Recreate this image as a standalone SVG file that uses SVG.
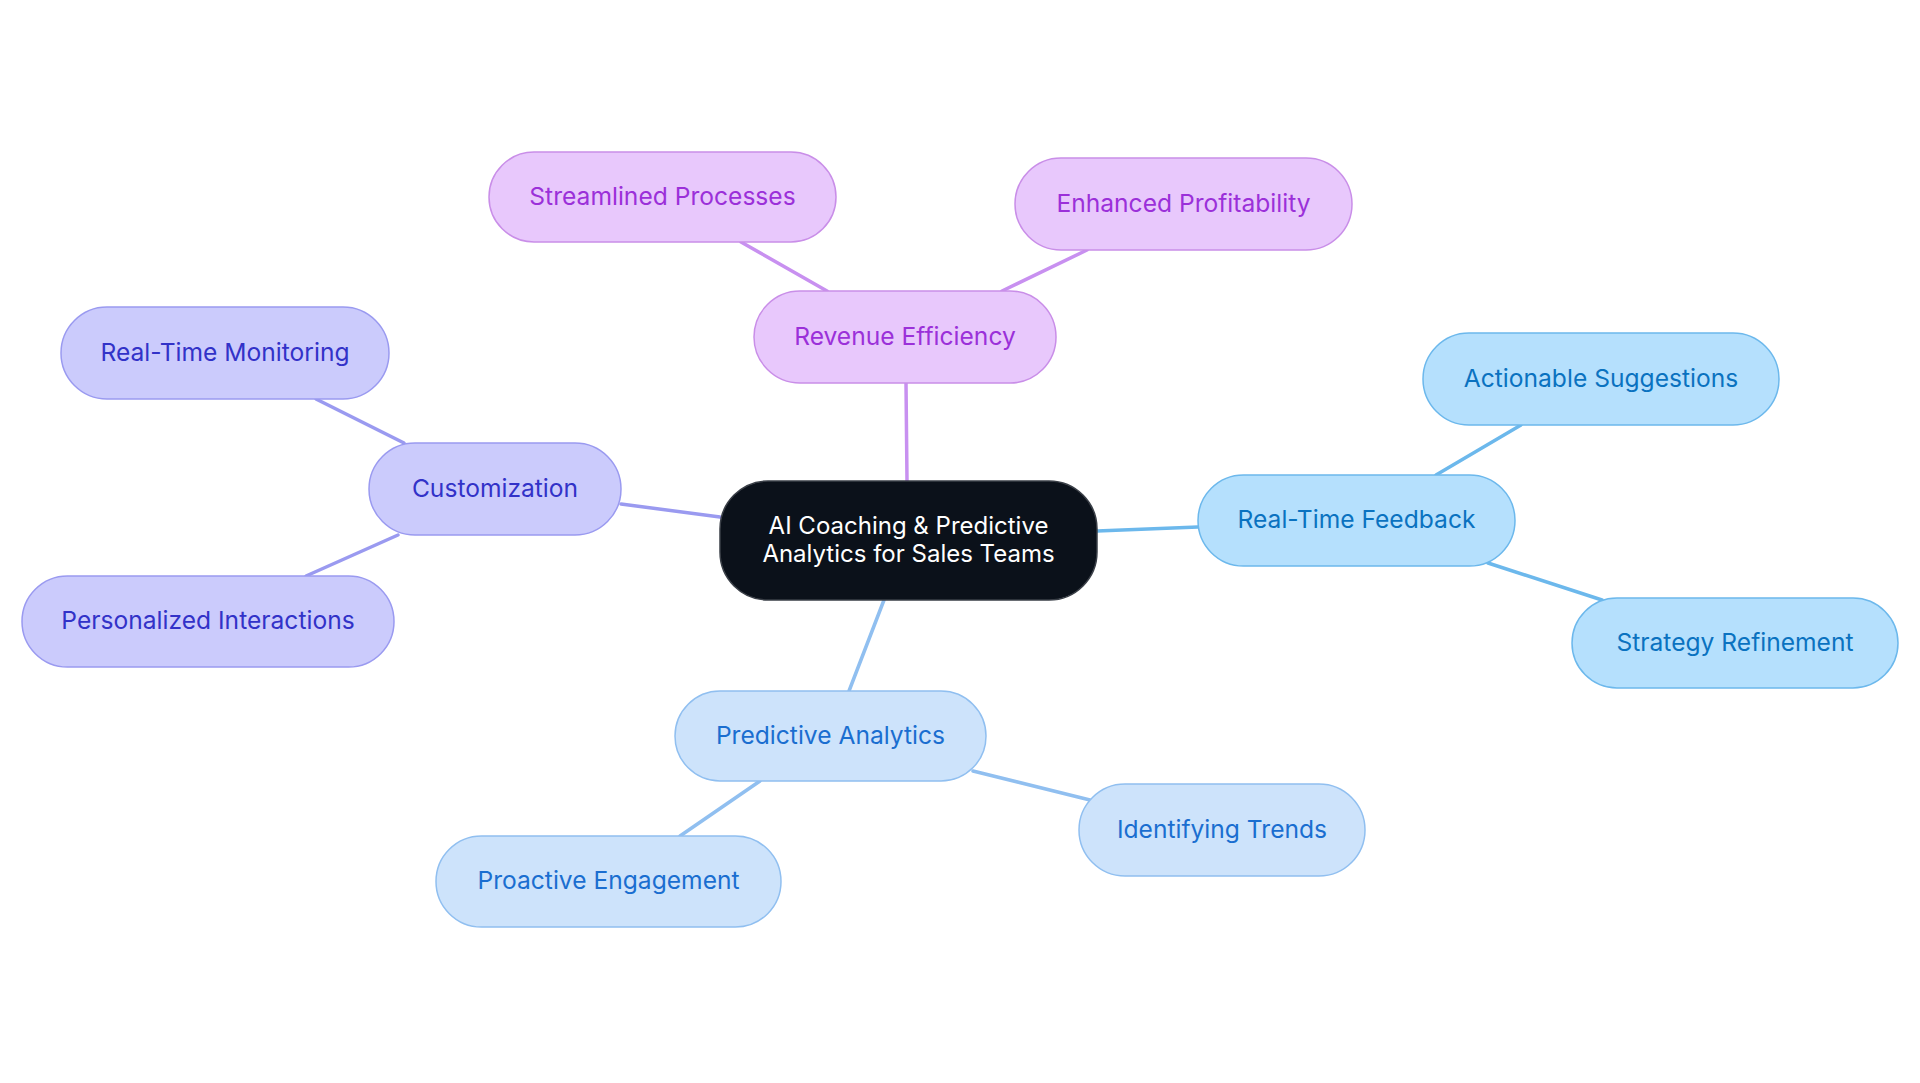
<svg xmlns="http://www.w3.org/2000/svg" width="1920" height="1083" viewBox="0 0 1920 1083">
<style>
text{font-family:Inter,"Noto Sans","Liberation Sans",sans-serif;font-size:24.6px;text-anchor:middle}
#center text{font-size:24px}
.n rect{stroke-width:1.5}
.purple rect{fill:#e8c8fc;stroke:#c98ee8}.purple text{fill:#9b30d9}
.indigo rect{fill:#cbcbfc;stroke:#9a9af0}.indigo text{fill:#3232c8}
.sky rect{fill:#b5e0fd;stroke:#6cb8ec}.sky text{fill:#0a72c0}
.blue rect{fill:#cde3fb;stroke:#90bff0}.blue text{fill:#1a6ed0}
.e line{stroke-width:3.5;stroke-linecap:round}
</style>
<rect width="1920" height="1083" fill="#ffffff"/>
<g id="connectors" class="e">
<line x1="906" y1="383" x2="907" y2="481" stroke="#c890f0"/>
<line x1="827" y1="291" x2="741" y2="242" stroke="#c890f0"/>
<line x1="1002" y1="291" x2="1087" y2="250" stroke="#c890f0"/>
<line x1="621" y1="504" x2="720" y2="517" stroke="#9a9af0"/>
<line x1="404" y1="443" x2="316" y2="399" stroke="#9a9af0"/>
<line x1="398" y1="535" x2="306" y2="576" stroke="#9a9af0"/>
<line x1="1097" y1="531" x2="1198" y2="527" stroke="#6cb8ec"/>
<line x1="1436" y1="475" x2="1521" y2="425" stroke="#6cb8ec"/>
<line x1="1488" y1="563" x2="1602" y2="600" stroke="#6cb8ec"/>
<line x1="884" y1="600" x2="849" y2="691" stroke="#90bff0"/>
<line x1="760" y1="781" x2="680" y2="836" stroke="#90bff0"/>
<line x1="973" y1="771" x2="1090" y2="800" stroke="#90bff0"/>
</g>
<g id="center">
<rect x="720" y="481" width="377" height="119" rx="48" fill="#0b111a" stroke="#3a3f47" stroke-width="1.5"/>
<text x="908.5" y="534" fill="#ffffff">AI Coaching &amp; Predictive</text>
<text x="908.5" y="562" fill="#ffffff">Analytics for Sales Teams</text>
</g>
<g id="revenue-efficiency" class="n purple">
<rect x="754" y="291" width="302" height="92" rx="46"/>
<text x="905" y="345">Revenue Efficiency</text>
</g>
<g id="streamlined-processes" class="n purple">
<rect x="489" y="152" width="347" height="90" rx="45"/>
<text x="662.5" y="205">Streamlined Processes</text>
</g>
<g id="enhanced-profitability" class="n purple">
<rect x="1015" y="158" width="337" height="92" rx="46"/>
<text x="1183.5" y="212">Enhanced Profitability</text>
</g>
<g id="customization" class="n indigo">
<rect x="369" y="443" width="252" height="92" rx="46"/>
<text x="495" y="497">Customization</text>
</g>
<g id="real-time-monitoring" class="n indigo">
<rect x="61" y="307" width="328" height="92" rx="46"/>
<text x="225" y="361">Real-Time Monitoring</text>
</g>
<g id="personalized-interactions" class="n indigo">
<rect x="22" y="576" width="372" height="91" rx="45.5"/>
<text x="208" y="629">Personalized Interactions</text>
</g>
<g id="real-time-feedback" class="n sky">
<rect x="1198" y="475" width="317" height="91" rx="45.5"/>
<text x="1356.5" y="528">Real-Time Feedback</text>
</g>
<g id="actionable-suggestions" class="n sky">
<rect x="1423" y="333" width="356" height="92" rx="46"/>
<text x="1601" y="387">Actionable Suggestions</text>
</g>
<g id="strategy-refinement" class="n sky">
<rect x="1572" y="598" width="326" height="90" rx="45"/>
<text x="1735" y="651">Strategy Refinement</text>
</g>
<g id="predictive-analytics" class="n blue">
<rect x="675" y="691" width="311" height="90" rx="45"/>
<text x="830.5" y="744">Predictive Analytics</text>
</g>
<g id="proactive-engagement" class="n blue">
<rect x="436" y="836" width="345" height="91" rx="45.5"/>
<text x="608.5" y="889">Proactive Engagement</text>
</g>
<g id="identifying-trends" class="n blue">
<rect x="1079" y="784" width="286" height="92" rx="46"/>
<text x="1222" y="838">Identifying Trends</text>
</g>
</svg>
